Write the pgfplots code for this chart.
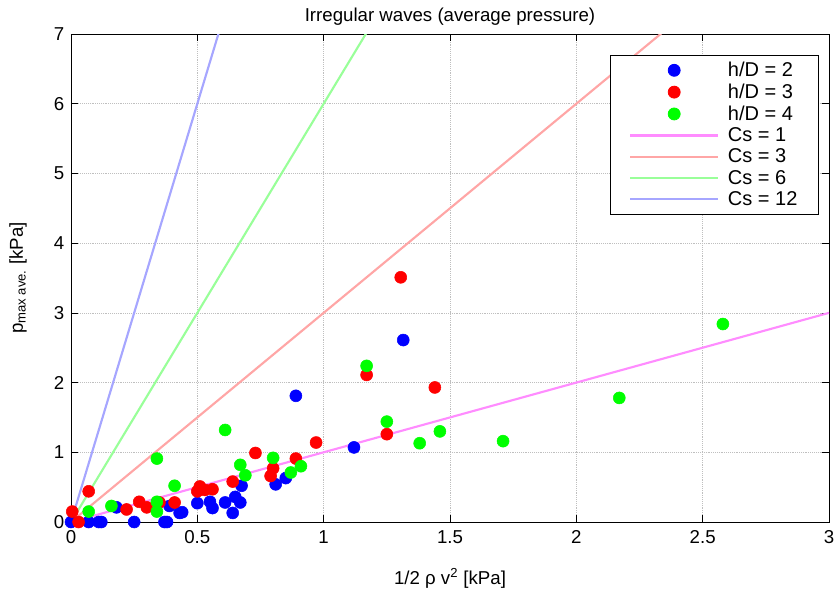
\documentclass[border=0pt]{standalone}
\usepackage{fontspec}
\setmainfont{Liberation Sans}
\usepackage{pgfplots}
\pgfplotsset{compat=1.18}

\definecolor{cs1}{rgb}{1,0.55,1}
\definecolor{cs3}{rgb}{1,0.65,0.65}
\definecolor{cs6}{rgb}{0.6,1,0.6}
\definecolor{cs12}{rgb}{0.65,0.65,1}

\newcommand{\ff}{\fontsize{14}{16}\selectfont}

\pgfplotsset{
  csline/.style={line width=1.6pt},
  dots/.style={only marks, mark=*, mark size=4.5pt},
  dotlegend/.style={legend image code/.code={%
    \draw[mark repeat=2,mark phase=2,##1] plot coordinates {(0pt,0pt) (33pt,0pt) (66pt,0pt)};}},
}

\begin{document}
\begin{tikzpicture}
\useasboundingbox (-53.25pt,-55.5pt) rectangle (572.25pt,391.5pt);
\begin{axis}[
  at={(0,0)}, anchor=south west,
  scale only axis,
  width=568.5pt, height=366pt,
  xmin=0, xmax=3, ymin=0, ymax=7,
  xtick={0,0.5,...,3}, ytick={0,1,...,7},
  tick align=inside, major tick length=5.25pt,
  tick style={black, line width=0.5pt},
  axis line style={black, line width=0.6pt},
  grid=major,
  major grid style={densely dotted, gray!50, line width=0.4pt},
  clip mode=individual,
  /pgf/number format/assume math mode=true,
  tick label style={font=\ff},
  xticklabel style={yshift=-3pt},
  yticklabel style={xshift=-1.5pt},
  every axis title/.style={at={(0.5,1.035)}, anchor=center, font=\ff},
  every axis x label/.style={at={(axis description cs:0.5,-0.115)}, anchor=center, font=\ff},
  every axis y label/.style={at={(axis description cs:-0.07,0.5)}, rotate=90, anchor=center, font=\ff},
  title={Irregular waves (average pressure)},
  xlabel={1/2 ρ v\textsuperscript{2} [kPa]},
  ylabel={p\textsubscript{max ave.} [kPa]},
  legend style={at={(0.987,0.957)}, anchor=north east,
    font=\fontsize{15}{17}\selectfont, draw=black, line width=0.6pt,
    row sep=0pt, inner xsep=14pt, inner ysep=3pt,
    /tikz/every odd column/.append style={column sep=4.5pt}},
  legend cell align=left,
  legend image code/.code={\draw[#1] plot coordinates {(0pt,0pt) (66pt,0pt)};},
]
% reference lines p = Cs * (1/2 rho v^2)
\addplot[cs1, csline, forget plot] coordinates {(0,0) (3,3)};
\addplot[cs3, csline, forget plot] coordinates {(0,0) (3,9)};
\addplot[cs6, csline, forget plot] coordinates {(0,0) (3,18)};
\addplot[cs12, csline, forget plot] coordinates {(0,0) (3,36)};

% h/D = 2
\addplot[dots, blue, forget plot] coordinates {
 (0,0) (0.07,0) (0.11,0) (0.12,0) (0.18,0.21) (0.25,0) (0.37,0) (0.38,0)
 (0.39,0.23) (0.43,0.13) (0.44,0.14) (0.50,0.27) (0.55,0.29) (0.56,0.20)
 (0.61,0.28) (0.64,0.13) (0.65,0.36) (0.67,0.28) (0.675,0.52) (0.81,0.54)
 (0.85,0.63) (0.89,1.81) (1.12,1.07) (1.315,2.61)};
% h/D = 3
\addplot[dots, red, forget plot] coordinates {
 (0.005,0.15) (0.03,0) (0.07,0.44) (0.22,0.18) (0.27,0.29) (0.30,0.21)
 (0.35,0.28) (0.41,0.28) (0.50,0.44) (0.51,0.51) (0.53,0.46) (0.56,0.47)
 (0.64,0.58) (0.73,0.99) (0.79,0.66) (0.80,0.77) (0.89,0.91) (0.97,1.14)
 (1.17,2.11) (1.25,1.26) (1.305,3.51) (1.44,1.93)};
% h/D = 4
\addplot[dots, green, forget plot] coordinates {
 (0.07,0.15) (0.16,0.23) (0.34,0.29) (0.34,0.15) (0.41,0.52) (0.34,0.91)
 (0.61,1.32) (0.67,0.82) (0.69,0.67) (0.80,0.92) (0.87,0.71) (0.91,0.80)
 (1.17,2.24) (1.25,1.44) (1.38,1.13) (1.46,1.30) (1.71,1.16) (2.17,1.78)
 (2.58,2.84)};

\addlegendimage{dots, blue, dotlegend}
\addlegendentry{h/D = 2}
\addlegendimage{dots, red, dotlegend}
\addlegendentry{h/D = 3}
\addlegendimage{dots, green, dotlegend}
\addlegendentry{h/D = 4}
\addlegendimage{cs1, csline}
\addlegendentry{Cs = 1}
\addlegendimage{cs3, csline}
\addlegendentry{Cs = 3}
\addlegendimage{cs6, csline}
\addlegendentry{Cs = 6}
\addlegendimage{cs12, csline}
\addlegendentry{Cs = 12}
\end{axis}
\end{tikzpicture}
\end{document}
